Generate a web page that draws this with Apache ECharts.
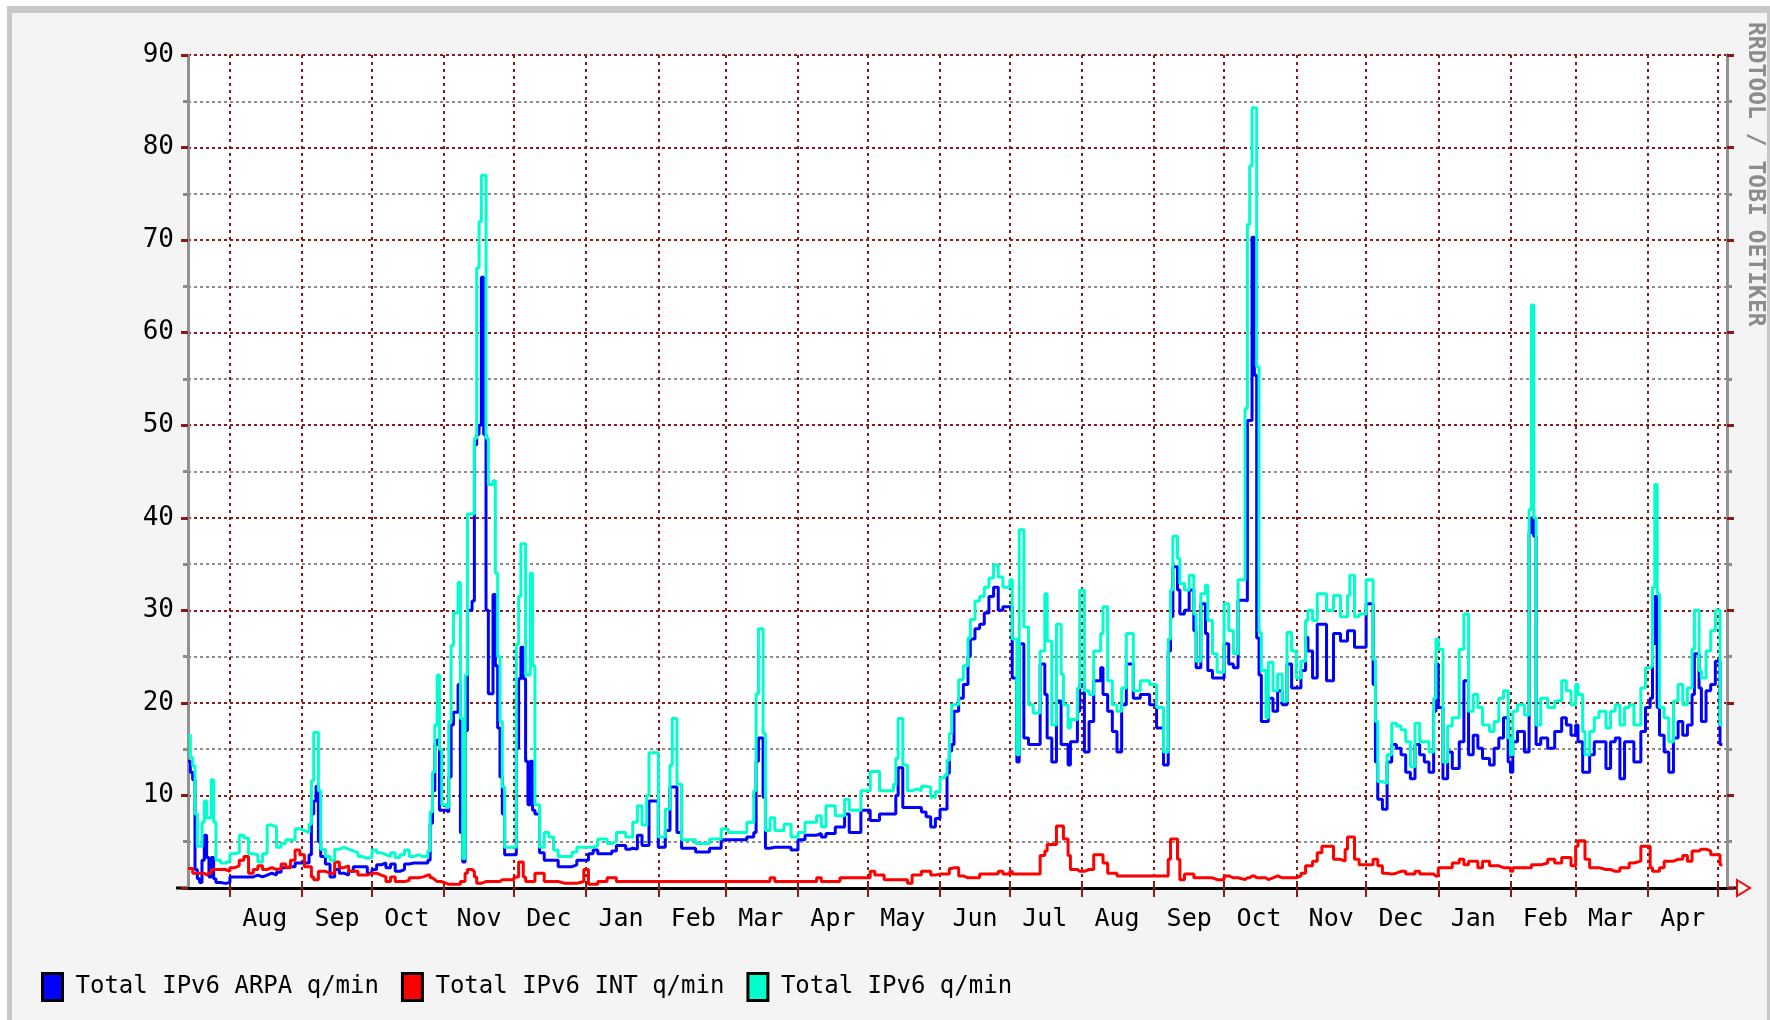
<!DOCTYPE html>
<html>
<head>
<meta charset="utf-8">
<title>Total IPv6 queries</title>
<script src="https://cdn.jsdelivr.net/npm/echarts@6/dist/echarts.min.js"></script>
<style>
  html, body { margin: 0; padding: 0; background: #fff; }
  #chart { width: 1770px; height: 1020px; }
</style>
</head>
<body>
<div id="chart"></div>
<script>
// sample dates, every value holds until the next date (rrd style steps)
const sampleDates = [
  '2003-07-14','2003-07-15','2003-07-16','2003-07-17','2003-07-18','2003-07-19','2003-07-20','2003-07-21','2003-07-22','2003-07-23','2003-07-24','2003-07-25','2003-07-26','2003-07-28','2003-07-30',
  '2003-08-01','2003-08-03','2003-08-05','2003-08-07','2003-08-09','2003-08-11','2003-08-13','2003-08-15','2003-08-17','2003-08-19','2003-08-21','2003-08-23','2003-08-25','2003-08-27','2003-08-29','2003-08-31',
  '2003-09-02','2003-09-04','2003-09-05','2003-09-06','2003-09-07','2003-09-08','2003-09-09','2003-09-11','2003-09-13','2003-09-15','2003-09-17','2003-09-19','2003-09-21','2003-09-23','2003-09-25','2003-09-27','2003-09-29',
  '2003-10-01','2003-10-03','2003-10-05','2003-10-07','2003-10-09','2003-10-11','2003-10-13','2003-10-15','2003-10-17','2003-10-19','2003-10-21','2003-10-23','2003-10-25','2003-10-26','2003-10-27','2003-10-28','2003-10-29','2003-10-30','2003-10-31',
  '2003-11-02','2003-11-03','2003-11-04','2003-11-05','2003-11-07','2003-11-08','2003-11-09','2003-11-10','2003-11-11','2003-11-13','2003-11-14','2003-11-15','2003-11-16','2003-11-17','2003-11-18','2003-11-19','2003-11-20','2003-11-22','2003-11-23','2003-11-24','2003-11-25','2003-11-26','2003-11-27','2003-11-29',
  '2003-12-01','2003-12-02','2003-12-03','2003-12-04','2003-12-05','2003-12-06','2003-12-07','2003-12-08','2003-12-09','2003-12-10','2003-12-12','2003-12-14','2003-12-16','2003-12-18','2003-12-20','2003-12-23','2003-12-26','2003-12-28','2003-12-31',
  '2004-01-02','2004-01-04','2004-01-06','2004-01-08','2004-01-10','2004-01-12','2004-01-14','2004-01-16','2004-01-18','2004-01-20','2004-01-21','2004-01-23','2004-01-25','2004-01-27','2004-01-28','2004-01-30',
  '2004-02-01','2004-02-03','2004-02-04','2004-02-06','2004-02-07','2004-02-08','2004-02-09','2004-02-11','2004-02-14','2004-02-17','2004-02-20','2004-02-23','2004-02-26','2004-02-28',
  '2004-03-02','2004-03-05','2004-03-08','2004-03-10','2004-03-12','2004-03-13','2004-03-14','2004-03-15','2004-03-16','2004-03-17','2004-03-18','2004-03-20','2004-03-22','2004-03-24','2004-03-26','2004-03-29',
  '2004-04-01','2004-04-04','2004-04-07','2004-04-09','2004-04-11','2004-04-13','2004-04-15','2004-04-17','2004-04-19','2004-04-21','2004-04-23','2004-04-25','2004-04-28','2004-04-30',
  '2004-05-02','2004-05-04','2004-05-06','2004-05-08','2004-05-10','2004-05-12','2004-05-13','2004-05-14','2004-05-15','2004-05-16','2004-05-18','2004-05-20','2004-05-22','2004-05-24','2004-05-26','2004-05-28','2004-05-30',
  '2004-06-01','2004-06-03','2004-06-04','2004-06-05','2004-06-06','2004-06-07','2004-06-09','2004-06-11','2004-06-13','2004-06-14','2004-06-16','2004-06-18','2004-06-20','2004-06-22','2004-06-24','2004-06-26','2004-06-28','2004-06-30',
  '2004-07-01','2004-07-02','2004-07-04','2004-07-05','2004-07-07','2004-07-09','2004-07-11','2004-07-14','2004-07-16','2004-07-17','2004-07-19','2004-07-21','2004-07-23','2004-07-24','2004-07-26','2004-07-27','2004-07-30','2004-07-31',
  '2004-08-02','2004-08-04','2004-08-06','2004-08-09','2004-08-10','2004-08-12','2004-08-14','2004-08-16','2004-08-18','2004-08-20','2004-08-23','2004-08-26','2004-08-30',
  '2004-09-02','2004-09-05','2004-09-07','2004-09-08','2004-09-09','2004-09-11','2004-09-12','2004-09-14','2004-09-16','2004-09-18','2004-09-19','2004-09-21','2004-09-23','2004-09-24','2004-09-26','2004-09-28',
  '2004-10-01','2004-10-03','2004-10-05','2004-10-07','2004-10-10','2004-10-11','2004-10-12','2004-10-13','2004-10-14','2004-10-15','2004-10-16','2004-10-17','2004-10-19','2004-10-20','2004-10-22','2004-10-24','2004-10-26','2004-10-28','2004-10-30',
  '2004-11-01','2004-11-03','2004-11-05','2004-11-06','2004-11-08','2004-11-10','2004-11-12','2004-11-14','2004-11-17','2004-11-20','2004-11-22','2004-11-23','2004-11-24','2004-11-26','2004-11-28',
  '2004-12-01','2004-12-03','2004-12-04','2004-12-05','2004-12-06','2004-12-08','2004-12-10','2004-12-12','2004-12-14','2004-12-16','2004-12-18','2004-12-20','2004-12-22','2004-12-24','2004-12-26','2004-12-28','2004-12-30','2004-12-31',
  '2005-01-01','2005-01-03','2005-01-05','2005-01-07','2005-01-10','2005-01-12','2005-01-14','2005-01-16','2005-01-18','2005-01-20','2005-01-23','2005-01-25','2005-01-27','2005-01-29','2005-01-31',
  '2005-02-01','2005-02-02','2005-02-04','2005-02-07','2005-02-09','2005-02-10','2005-02-11','2005-02-12','2005-02-14','2005-02-17','2005-02-20','2005-02-23','2005-02-25','2005-02-27',
  '2005-03-01','2005-03-02','2005-03-04','2005-03-05','2005-03-07','2005-03-09','2005-03-11','2005-03-14','2005-03-16','2005-03-18','2005-03-20','2005-03-22','2005-03-24','2005-03-26','2005-03-29','2005-03-31',
  '2005-04-02','2005-04-03','2005-04-04','2005-04-05','2005-04-06','2005-04-08','2005-04-10','2005-04-12','2005-04-14','2005-04-16','2005-04-18','2005-04-20','2005-04-21','2005-04-23','2005-04-24','2005-04-26','2005-04-28','2005-04-30',
  '2005-05-02','2005-05-03'
]

// Total IPv6 ARPA q/min
const arpaQ = [
  13.7,12.5,11.7,2,1,0.6,3,5.7,3.3,1.2,3.3,1,0.6,0.5,0.6,
  1.2,1.2,1.2,1.2,1.2,1.4,1.2,1.4,1.6,1.4,1.7,2.2,2.3,2.3,2.7,2.7,
  2.7,3.6,8,9.4,11,5,3.4,2.6,1.2,2,1.6,1.4,1.8,2.3,2.3,2.3,1.6,
  2,2.5,2.7,2.2,2.6,1.8,2,2.6,2.7,2.7,2.7,2.7,3,7,10.5,15.5,16,8.4,8.4,
  8.2,12,17.6,19,22,6,2.8,17,30,31,47.9,49,50,66,49,30,21,31.7,24,17.3,12,8,3.6,3.6,
  3.6,15.1,22.6,26,22.6,13.7,9,13.7,8.4,8,3.8,3,3,3,2.3,2.3,2.5,3,3,
  3.7,4.1,3.7,3.7,3.7,4,4.6,4.6,4.2,4.3,4.2,5.7,4.6,4.6,9.4,9.4,
  4.4,4.4,6.2,10.9,10.9,10.9,6,4.3,4.3,3.9,3.9,4.3,4.3,5.2,
  5.2,5.2,5.2,5.5,5.5,6,13.7,16.2,16.2,9.8,4.3,4.4,4.4,4.4,4.4,4.1,
  5.2,5.7,5.7,5.9,5.5,5.9,5.9,6.6,6.6,8,6,6,8.4,8.4,
  7.3,7.3,8,8,8,8,10,13,13,8.7,8.7,8.7,8.7,8.2,7.7,6.6,7.5,
  8.5,8.5,12.4,14.8,15.5,19.1,20.5,22,25,26.9,28,28.5,29.7,31.5,32.5,30,30.4,30.4,
  30.4,22.7,13.6,26.4,16.2,15.5,15.5,24.2,20.9,16.2,13.6,20.2,15.5,15.5,13.3,15.8,19.1,22,
  14.7,18,22.4,23.8,20.9,19.1,16.9,14.7,19.8,24.2,20.5,20.9,19.8,
  17.3,13.3,25.6,29.3,34.7,32.2,29.6,30,32.2,27.8,23.8,30.7,27.5,23.5,22.7,22.7,
  26.4,24.2,23.8,31.1,31,50.5,50.5,70.3,55.4,27,23,18,18,20.5,19.1,21.3,19.8,24.2,21.6,
  21.6,23.5,27.1,25.6,22.7,28.5,28.5,22.4,27.5,26.7,26.7,27.8,27.8,26,26,
  30.7,30.7,22,13.6,9.6,8.5,13.6,15.5,15.1,14.4,12.5,11.8,15.5,14.4,13.6,12.5,19.1,24.2,
  19.5,11.8,14.7,12.9,15.8,22.4,14.4,16.5,15.1,14,13.3,15.1,16.2,18.4,13.6,
  12.5,15.8,16.9,14.7,38.4,40,38,15.5,16.2,15.1,16.9,18.4,17.6,16.5,
  17.6,15.8,12.5,12.5,14.4,15.8,15.8,12.9,15.8,16.2,11.8,15.8,15.8,13.6,16.9,19.5,
  20.5,26.4,31.5,19.5,16.5,14.7,12.5,16.2,18,16.5,17.6,20.9,25.3,21.6,18,21.3,22,24.5,
  15.5,15.5
]

// Total IPv6 INT q/min
const intQ = [
  2.1,2.1,1.6,1.6,1.6,1.6,1.6,1.4,1.6,1.6,2,2,2,2,1.8,
  2.2,2.4,3,3.4,1.6,2,2.4,2,2.2,2,2.1,2.6,2.2,3,4.1,3.6,
  2.3,2.3,1.2,0.9,0.9,1.8,1.8,1.6,1.6,2.8,2.2,2.4,1.8,1.8,1.4,1.4,1.6,
  1.6,1.4,1.2,0.7,1.2,0.7,0.7,0.8,1.1,1.1,1.2,1.4,1.4,1.1,0.9,0.7,0.7,0.7,0.5,
  0.4,0.4,0.4,0.4,0.4,0.7,0.7,1.6,2,1.8,1.2,0.5,0.5,0.6,0.7,0.7,0.7,0.7,0.7,0.7,0.9,0.9,0.9,0.9,
  1.2,1.2,2.8,2.8,1.2,0.7,0.7,0.7,0.7,1.6,1.6,0.7,0.7,0.7,0.5,0.5,0.5,0.7,2,
  0.4,0.4,0.7,0.7,1.1,1.1,0.7,0.7,0.7,0.7,0.7,0.7,0.7,0.7,0.7,0.7,
  0.7,0.7,0.7,0.7,0.7,0.7,0.7,0.7,0.7,0.7,0.7,0.7,0.7,0.7,
  0.7,0.7,0.7,0.7,0.7,0.7,0.7,0.7,0.7,0.7,0.7,1.1,0.7,0.7,0.7,0.7,
  0.7,0.7,0.7,1.1,0.7,0.7,0.7,0.7,1.1,1.1,1.1,1.1,1.1,1.1,
  1.8,1.4,1.4,0.9,0.9,0.9,0.9,0.9,0.9,0.9,0.5,1.4,1.4,1.8,1.8,1.4,1.5,
  1.5,1.5,1.5,2.1,2.2,2.2,1.3,1.1,1.1,1.1,1.1,1.5,1.5,1.5,1.5,1.8,1.5,1.5,
  1.8,1.5,1.5,1.5,1.5,1.5,1.5,3.5,4,4.7,4.7,6.7,6.7,5.3,3.5,2,1.8,1.8,
  2,2,3.6,3.6,2.7,1.6,1.6,1.3,1.3,1.3,1.3,1.3,1.3,
  1.3,1.3,3.1,5.3,5.3,3.1,0.9,1.5,1.5,1.1,1.1,1.1,1.1,1.1,0.9,0.9,
  1.3,1.1,1.1,0.9,1.1,1.1,1.3,1.3,1.1,1.1,1.1,1.1,0.9,1.1,1.3,1.1,1.1,1.1,1.1,
  1.3,1.6,2.4,2.4,2.9,3.8,4.5,4.5,3.1,2.9,4.2,5.5,5.5,3.1,2.5,
  2.5,2.5,3.1,3.1,2.4,1.6,1.5,1.6,1.8,1.8,1.5,1.5,1.8,1.5,1.5,1.5,1.3,1.3,
  2.2,2.2,2.2,2.7,3.1,2.5,2.9,2.9,2.2,2.9,2.4,2.4,2.2,2.2,2.2,
  1.8,2.2,2.2,2.2,2.2,2.5,2.5,2.5,2.7,3.1,2.7,3.3,3.3,2.4,
  4.5,5.1,5.1,3.1,2.2,2.2,2,2,1.8,1.8,2.2,2.2,2.7,2.9,4.5,4.5,
  2.2,1.8,1.8,1.8,2.2,2.9,2.9,3.1,3.1,3.5,2.9,4,4,4.2,4.2,4,3.6,3.6,
  2.5,2.5
]

// Total IPv6 q/min
const totalQ = [
  16.5,14.1,13.2,8,4.5,4.5,7.1,9.4,7.6,7.6,11.7,7.1,3,2.7,2.9,
  3.7,3.8,5.7,5.4,3.7,3.6,2.8,3.7,6.8,6.6,4.4,4.8,5.2,5.2,6.4,6.2,
  6,6.9,11.6,16.8,16.8,10.5,4.2,3.4,3,4.2,4.4,4.2,4,3.8,3.4,3.2,3.3,
  4.1,3.8,3.6,3.4,3.8,3.3,3.6,4.1,3.4,3.6,3.4,3.4,4,8.2,12.5,17.6,23,15,9,
  8.7,18,26.2,29.7,33,18.3,3.2,23,40.4,40.4,48.6,67,72,77,77,48.6,43.6,44,34,25,18,10.9,4.4,4.4,
  4.4,26.3,31.5,37.2,37.2,23,23,34,24,9,4.4,6,5.5,4.1,3.4,3.4,3.9,4.4,4.4,
  4.4,4.6,5.3,5.3,4.8,5,6,6,5.5,5.5,7.1,8.9,6.8,10,14.6,14.6,
  5.5,5.5,8.5,13.3,18.3,18.3,11.2,5.2,5.2,4.8,4.8,5.3,5.3,6.4,
  6,6,6,7.1,7.1,10.5,21,28,28,16.7,6.2,7.6,6.2,6.2,6.9,5.5,
  6,7.1,7.1,7.8,6.6,8.9,8.9,7.8,7.8,9.6,8.4,8.4,10.5,10.5,
  12.6,12.6,10.5,10.5,10.5,11.2,14,18.3,18.3,13.3,10.5,10.7,10.5,11,10.9,9.8,10.4,
  11.9,12.2,13.8,16.7,19.8,19.8,22.5,24,27,29,31,31.5,32.5,33.5,34.9,33.6,32.5,32.5,
  33.3,26.9,14.4,38.7,28.2,19.8,18.9,25.6,31.8,26.7,17.6,28.5,23.1,19.8,17.3,18.2,21.6,32.2,
  21.3,20.9,25.6,27.5,30.4,22.4,19.8,19.1,21.6,27.5,21.3,22.4,22,
  19.5,14.7,26.9,32.2,38,35.6,32.9,32.2,33.8,29.6,24.5,31.8,32.7,28.9,25.3,23.3,
  30.7,27.8,25.3,33.3,51.8,71.7,78,84.3,84.3,56.3,27.6,23.5,18.4,24.4,21.3,23.1,20.2,27.6,25.6,
  22.7,24.5,28.9,30,28.9,31.8,31.8,30,31.6,29.3,29.3,31.6,33.8,29.3,29.6,
  33.3,33.3,24.7,18,11.5,11.3,14.4,17.8,17.5,17.1,15.8,13.1,17.8,15.8,15.8,14.7,20.5,26.9,
  25.8,13.6,17.5,18.4,25.8,29.6,19.1,20.9,19.5,17.6,16.9,18,20.5,21.3,16.2,
  14.4,19.1,19.8,18.7,40.9,63,40,17.6,20.5,19.5,20.2,22.4,21.3,19.8,
  22,20.9,16.9,14.4,16.9,18.4,19.1,17.3,19.1,19.8,17.6,19.5,19.8,17.6,21.6,23.8,
  24,32.5,43.6,31.8,19.5,18.4,15.8,20.2,22,19.8,21.6,25.8,30,23.5,22.7,25.6,27.8,30,
  17.6,17.6
]

const seriesNames = ['Total IPv6 ARPA q/min', 'Total IPv6 INT q/min', 'Total IPv6 q/min']
const seriesColors = ['#0000ff', '#ff0000', '#00ffcc']
const monthNames = ['Jan', 'Feb', 'Mar', 'Apr', 'May', 'Jun', 'Jul', 'Aug', 'Sep', 'Oct', 'Nov', 'Dec']

const DARK_RED = '#881a1a'
const GRID_GRAY = '#8c8c8c'
const AXIS_GRAY = '#929292'
const FONT = "'DejaVu Sans Mono', 'Liberation Mono', monospace"

// one category per day across the whole plot width
const days = []
for (let t = Date.UTC(2003, 6, 14); t <= Date.UTC(2005, 4, 5); t += 86400000) {
  days.push(new Date(t).toISOString().slice(0, 10))
}
const isMonthStart = (i, v) => v.slice(8) === '01'
const isMidMonth = (i, v) => v.slice(8) === '16' && i > 20

function stepLine (name, color, values) {
  return {
    name: name,
    type: 'line',
    step: 'end',
    symbol: 'none',
    color: color,
    lineStyle: { color: color, width: 3 },
    emphasis: { disabled: true },
    data: sampleDates.map((d, i) => [d, values[i]])
  }
}

const chart = echarts.init(document.getElementById('chart'))
const option = {
  animation: false,
  backgroundColor: '#f4f4f4',
  grid: {
    left: 188,
    right: 43,
    top: 55,
    bottom: 132,
    show: true,
    backgroundColor: '#ffffff',
    borderWidth: 0,
    containLabel: false,
    outerBoundsMode: 'none'
  },
  legend: {
    data: seriesNames,
    left: 36,
    top: 967,
    icon: 'rect',
    itemWidth: 20,
    itemHeight: 27,
    itemGap: 22,
    selectedMode: false,
    itemStyle: { borderColor: '#000', borderWidth: 3 },
    textStyle: { fontFamily: FONT, fontSize: 24, color: '#000', padding: [0, 0, 0, 8] }
  },
  xAxis: [
    {
      type: 'category',
      data: days,
      boundaryGap: false,
      position: 'bottom',
      axisLine: { show: true, onZero: false, lineStyle: { color: '#000', width: 3 } },
      axisTick: { show: true, interval: isMonthStart, length: 9, lineStyle: { color: DARK_RED, width: 2 } },
      axisLabel: {
        interval: isMidMonth,
        hideOverlap: false,
        formatter: v => monthNames[+v.slice(5, 7) - 1],
        fontFamily: FONT,
        fontSize: 25,
        color: '#000',
        margin: 19
      },
      splitLine: { show: true, interval: isMonthStart, lineStyle: { color: DARK_RED, width: 2, type: [3, 4] } }
    },
    {
      // only the little month ticks above the plot
      type: 'category',
      data: days,
      boundaryGap: false,
      position: 'top',
      axisLine: { show: false },
      axisTick: { show: true, interval: isMonthStart, length: 7, lineStyle: { color: DARK_RED, width: 2 } },
      axisLabel: { show: false },
      splitLine: { show: false }
    }
  ],
  yAxis: [
    {
      type: 'value', min: 0, max: 90, interval: 5, position: 'left',
      axisLine: { show: true, lineStyle: { color: AXIS_GRAY, width: 3 } },
      axisTick: { show: true, length: 5, lineStyle: { color: GRID_GRAY, width: 3 } },
      axisLabel: { show: false },
      splitLine: { show: true, lineStyle: { color: [DARK_RED, GRID_GRAY], width: 2, type: [3, 3] } }
    },
    {
      type: 'value', min: 0, max: 90, interval: 10, position: 'left',
      axisLine: { show: false },
      axisTick: { show: true, length: 7, lineStyle: { color: DARK_RED, width: 3 } },
      axisLabel: {
        formatter: v => (v === 0 ? '' : String(v)),
        fontFamily: FONT, fontSize: 26, color: '#000', margin: 14
      },
      splitLine: { show: false }
    },
    {
      type: 'value', min: 0, max: 90, interval: 5, position: 'right',
      axisLine: { show: true, lineStyle: { color: AXIS_GRAY, width: 3 } },
      axisTick: { show: true, length: 5, lineStyle: { color: GRID_GRAY, width: 3 } },
      axisLabel: { show: false },
      splitLine: { show: false }
    },
    {
      type: 'value', min: 0, max: 90, interval: 10, position: 'right',
      axisLine: { show: false },
      axisTick: { show: true, length: 7, lineStyle: { color: DARK_RED, width: 3 } },
      axisLabel: { show: false },
      splitLine: { show: false }
    }
  ],
  series: [
    stepLine(seriesNames[0], seriesColors[0], arpaQ),
    stepLine(seriesNames[1], seriesColors[1], intQ),
    stepLine(seriesNames[2], seriesColors[2], totalQ)
  ],
  graphic: [
    { type: 'rect', silent: true, shape: { x: 0, y: 0, width: 1770, height: 6 }, style: { fill: '#ffffff' } },
    { type: 'rect', silent: true, shape: { x: 0, y: 0, width: 7, height: 1020 }, style: { fill: '#ffffff' } },
    { type: 'rect', silent: true, shape: { x: 7, y: 6, width: 1763, height: 7 }, style: { fill: '#c8c8c8' } },
    { type: 'rect', silent: true, shape: { x: 7, y: 6, width: 5, height: 1014 }, style: { fill: '#c8c8c8' } },
    { type: 'rect', silent: true, shape: { x: 1767, y: 6, width: 3, height: 1014 }, style: { fill: '#c8c8c8' } },
    // x axis runs a bit past the plot on both sides, ending in the red arrow
    { type: 'line', silent: true, shape: { x1: 176, y1: 888, x2: 189, y2: 888 }, style: { stroke: '#000', lineWidth: 3 } },
    { type: 'line', silent: true, shape: { x1: 1726, y1: 888, x2: 1737, y2: 888 }, style: { stroke: '#000', lineWidth: 3 } },
    { type: 'polygon', silent: true, shape: { points: [[1737, 880], [1750, 888], [1737, 896]] }, style: { fill: 'none', stroke: '#ff0000', lineWidth: 2 } },
    {
      type: 'text',
      silent: true,
      x: 1755,
      y: 22,
      rotation: -Math.PI / 2,
      style: { text: 'RRDTOOL / TOBI OETIKER', fill: '#8c8c8c', font: "bold 23px 'DejaVu Sans Mono', monospace", align: 'left', verticalAlign: 'middle' }
    }
  ]
}
chart.setOption(option)
</script>
</body>
</html>
